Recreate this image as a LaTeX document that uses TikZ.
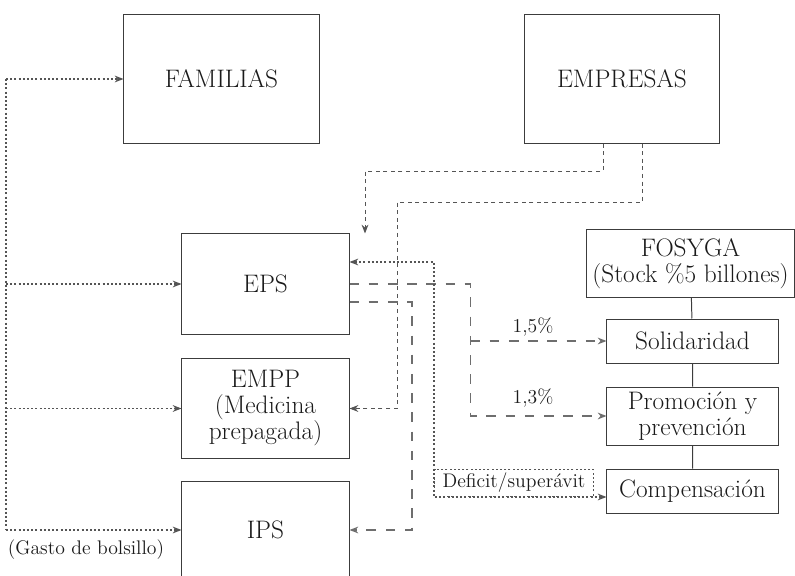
\documentclass[tikz,border=0pt]{standalone}
\usepackage{xcolor}
\usepackage{tikz}
\usetikzlibrary{arrows.meta, positioning, calc}
\definecolor{tinta}{HTML}{1A1A1A}
\definecolor{borde}{HTML}{3C3C3C}
\definecolor{trazo}{HTML}{555555}

\tikzset{
  caja/.style={draw=borde, line width=0.7pt, align=center, text=tinta, inner sep=1pt, font=\fontsize{18}{18.5}\selectfont},
  nota/.style={text=tinta, inner sep=1pt, font=\fontsize{14}{15}\selectfont},
  flujo/.style={draw=trazo, line width=0.8pt, dash pattern=on 0.5mm off 0.55mm, -{Stealth[length=2.2mm,width=1.7mm]}},
  cotiza/.style={draw=trazo, line width=0.7pt, dash pattern=on 1mm off 0.9mm, -{Stealth[length=2.2mm,width=1.7mm]}},
  aporte/.style={draw=trazo!85, line width=0.8pt, dash pattern=on 2.4mm off 2.4mm, -{Stealth[length=2.2mm,width=1.7mm]}},
  enlace/.style={draw=borde, line width=0.7pt}
}

\begin{document}
\begin{tikzpicture}[x=0.025cm, y=-0.025cm]
  \useasboundingbox (0,0) rectangle (795,576);

  \node[caja, minimum width=4.875cm, minimum height=3.2cm] (fam) at (221.5,79) {FAMILIAS};
  \node[caja, minimum width=4.85cm, minimum height=3.2cm] (emp) at (622,79) {EMPRESAS};

  \foreach \n/\y/\h/\txt in {eps/284/2.5/EPS, empp/408.5/2.475/{EMPP\\(Medicina\\prepagada)}, ips/530/2.4/IPS} {
    \node[caja, minimum width=4.175cm, minimum height=\h cm] (\n) at (265.5,\y) {\txt};
  }

  \node[caja, minimum width=5.175cm, minimum height=1.675cm] (fos) at (690.5,263.5) {FOSYGA\\(Stock \%5 billones)};
  \foreach \n/\y/\h/\txt in {sol/341/1.1/Solidaridad, pro/416/1.45/{Promoción y\\prevención}, com/491/1.1/Compensación} {
    \node[caja, minimum width=4.275cm, minimum height=\h cm] (\n) at (692.5,\y) {\txt};
  }
  \draw[enlace] (fos) -- (sol) -- (pro) -- (com);

  % gasto de bolsillo
  \coordinate (g) at (6,530);
  \draw[flujo, -] (g |- fam.west) -- (g);
  \foreach \n in {fam, eps, empp, ips} {
    \draw[flujo] (g |- \n.west) -- (\n.west);
  }
  \node[nota] (gasto) at (86,550) {(Gasto de bolsillo)};

  % cotizaciones de las empresas
  \coordinate (e1) at (365,171);
  \coordinate (e2) at (397,202);
  \draw[cotiza] ($(emp.south)+(-19,0)$) |- (e1) -- (e1 |- eps.north);
  \draw[cotiza] ($(emp.south)+(20,0)$) |- (e2) |- (empp.east);

  % aportes de la EPS
  \draw[aporte] (eps.east) -- ++(121,0) coordinate (r1) |- (pro.west);
  \draw[aporte] (r1 |- sol.west) -- (sol.west);
  \coordinate (r2) at (412,302);
  \draw[aporte] (eps.east |- r2) -- (r2) |- (ips.east);
  \node[nota] (p15) at (533,327) {1,5\%};
  \node[nota] (p13) at (533,398) {1,3\%};

  % deficit / superavit
  \coordinate (d1) at (434,262);
  \node[nota, draw=trazo, line width=0.8pt, dash pattern=on 0.5mm off 0.55mm, anchor=south west, inner xsep=2mm, minimum height=0.675cm] (def) at (434,497) {Deficit/superávit};
  \draw[flujo, {Stealth[length=2.2mm,width=1.7mm]}-{Stealth[length=2.2mm,width=1.7mm]}] (eps.east |- d1) -- (d1) |- (def.south west) -- (def.south west -| com.west);
\end{tikzpicture}
\end{document}
